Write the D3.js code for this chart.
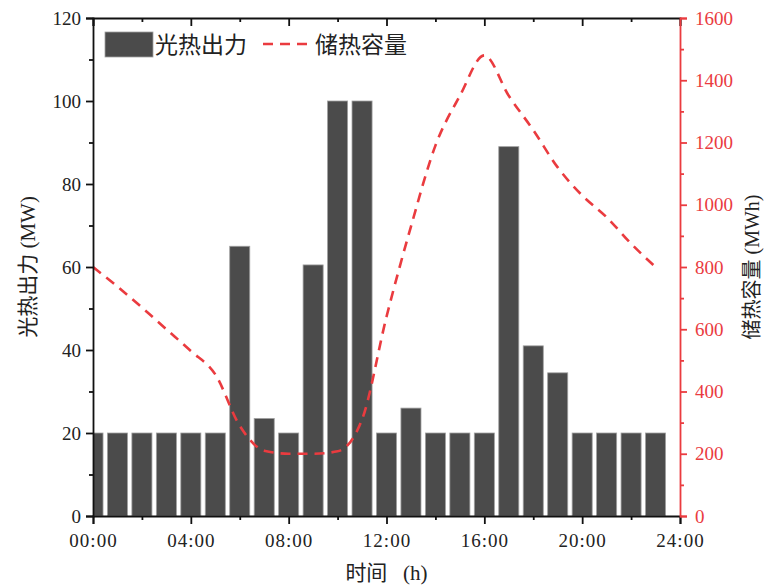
<!DOCTYPE html>
<html>
<head>
<meta charset="utf-8">
<script src="https://cdn.jsdelivr.net/npm/d3@7"></script>
<style>
  body { margin: 0; background: #fff; }
  svg text { font-family: "Liberation Serif", "Noto Sans CJK SC", serif; }
  .cjk { font-family: "Liberation Serif", "Noto Sans CJK SC", sans-serif; white-space: pre; }
</style>
</head>
<body>
<div id="chart"></div>
<script>
// hours 0..23
const hours = d3.range(0, 24);
// 光热出力 (MW)
const powerValues = [20, 20, 20, 20, 20, 20, 65, 23.5, 20, 60.5, 100, 100,
                     20, 26, 20, 20, 20, 89, 41, 34.5, 20, 20, 20, 20];
// 储热容量 (MWh)
const storageValues = [800, 737, 670, 600, 530, 455, 290, 210, 200, 200, 208, 310,
                       640, 930, 1190, 1350, 1480, 1350, 1240, 1120, 1030, 960, 875, 800];
const xTicks = [0, 4, 8, 12, 16, 20, 24];
const leftTicks = [0, 20, 40, 60, 80, 100, 120];
const rightTicks = [0, 200, 400, 600, 800, 1000, 1200, 1400, 1600];

const W = 766, H = 588;
const margin = {top: 18, right: 86, bottom: 72, left: 93};
const width = W - margin.left - margin.right;
const height = H - margin.top - margin.bottom;
const red = "#ea3b3f";

const svg = d3.select("#chart").append("svg")
    .attr("width", W).attr("height", H);

const g = svg.append("g")
    .attr("transform", "translate(" + margin.left + "," + margin.top + ")");

const x = d3.scaleLinear().domain([0, 24]).range([0, width]);
const yL = d3.scaleLinear().domain([0, 120]).range([height, 0]);
const yR = d3.scaleLinear().domain([0, 1600]).range([height, 0]);

g.append("clipPath").attr("id", "clip")
  .append("rect").attr("width", width).attr("height", height);

// bars
const barW = x(0.82) - x(0);
g.append("g").attr("clip-path", "url(#clip)")
  .selectAll("rect")
  .data(hours)
  .enter()
  .append("rect")
  .attr("x", d => x(d) - barW / 2)
  .attr("width", barW)
  .attr("y", d => yL(powerValues[d]))
  .attr("height", d => height - yL(powerValues[d]))
  .attr("fill", "#4b4b4b")
  .attr("stroke", "#a0a0a0")
  .attr("stroke-width", 0.8);

// storage line
const line = d3.line()
    .x(d => x(d))
    .y(d => yR(storageValues[d]))
    .curve(d3.curveMonotoneX);

g.append("path")
  .datum(hours)
  .attr("d", line)
  .attr("fill", "none")
  .attr("stroke", red)
  .attr("stroke-width", 2.6)
  .attr("stroke-dasharray", "10,7");

// bottom axis
const xAxis = g.append("g")
  .attr("transform", "translate(0," + height + ")")
  .call(d3.axisBottom(x).tickValues(xTicks).tickSize(8).tickPadding(10)
      .tickFormat(d => d3.format("02d")(d) + ":00"));
g.append("g")
  .attr("transform", "translate(0," + height + ")")
  .call(d3.axisBottom(x).tickValues(d3.range(2, 24, 4)).tickSize(4).tickFormat(""))
  .select(".domain").remove();

// top axis (inward ticks)
g.append("g")
  .call(d3.axisBottom(x).tickValues(xTicks).tickSize(8).tickFormat(""));
g.append("g")
  .call(d3.axisBottom(x).tickValues(d3.range(2, 24, 4)).tickSize(4).tickFormat(""))
  .select(".domain").remove();

// left axis
g.append("g")
  .call(d3.axisLeft(yL).tickValues(leftTicks).tickSize(7).tickPadding(5));
g.append("g")
  .call(d3.axisLeft(yL).tickValues(d3.range(10, 120, 20)).tickSize(4).tickFormat(""))
  .select(".domain").remove();

// right axis
const rAxis = g.append("g")
  .attr("transform", "translate(" + width + ",0)")
  .call(d3.axisRight(yR).tickValues(rightTicks).tickSize(7).tickPadding(8)
      .tickFormat(d3.format("d")));
const rMinor = g.append("g")
  .attr("transform", "translate(" + width + ",0)")
  .call(d3.axisRight(yR).tickValues(d3.range(100, 1600, 200)).tickSize(4).tickFormat(""));
rMinor.select(".domain").remove();

g.selectAll(".domain, .tick line")
  .attr("stroke", "#111").attr("stroke-width", 1.8);
g.selectAll(".tick text")
  .attr("font-size", 19).attr("fill", "#222")
  .style("font-family", "Liberation Serif");
xAxis.selectAll(".tick text").attr("letter-spacing", 1);
rAxis.selectAll(".domain, .tick line").attr("stroke", red);
rMinor.selectAll(".tick line").attr("stroke", red);
rAxis.selectAll(".tick text").attr("fill", red);

// axis titles
svg.append("text")
  .attr("class", "cjk")
  .attr("transform", "translate(35," + (margin.top + height / 2) + ") rotate(-90)")
  .attr("text-anchor", "middle")
  .attr("font-size", 21)
  .attr("fill", "#222")
  .text("光热出力 (MW)");

svg.append("text")
  .attr("class", "cjk")
  .attr("transform", "translate(759," + (margin.top + height / 2) + ") rotate(-90)")
  .attr("text-anchor", "middle")
  .attr("font-size", 20)
  .attr("fill", "#222")
  .text("储热容量 (MWh)");

svg.append("text")
  .attr("class", "cjk")
  .attr("x", margin.left + width / 2)
  .attr("y", 580)
  .attr("text-anchor", "middle")
  .attr("font-size", 21)
  .attr("fill", "#222")
  .text("时间 \u2002(h)");

// legend
const legend = svg.append("g");
legend.append("rect")
  .attr("x", 105).attr("y", 32).attr("width", 48).attr("height", 25)
  .attr("fill", "#4b4b4b").attr("stroke", "#a0a0a0").attr("stroke-width", 0.8);
legend.append("text")
  .attr("class", "cjk")
  .attr("x", 155).attr("y", 53)
  .attr("font-size", 23).attr("fill", "#222")
  .text("光热出力");
legend.append("line")
  .attr("x1", 263).attr("x2", 314).attr("y1", 44).attr("y2", 44)
  .attr("stroke", red).attr("stroke-width", 2.6)
  .attr("stroke-dasharray", "10,7");
legend.append("text")
  .attr("class", "cjk")
  .attr("x", 315).attr("y", 53)
  .attr("font-size", 23).attr("fill", "#222")
  .text("储热容量");
</script>
</body>
</html>
